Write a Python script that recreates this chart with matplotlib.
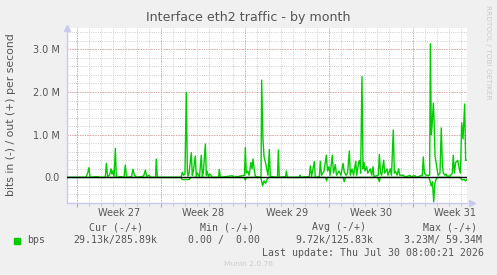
import numpy as np
import matplotlib.pyplot as plt

# time axis in days from left edge of graph, values in Mbit/s
out_days = [0.0, 1.58, 1.72, 1.83, 1.92, 2.58, 2.67, 3.19, 3.28, 3.38, 3.54, 3.67, 3.75, 3.81, 3.92,
            4.03, 4.11, 4.5, 4.75, 4.86, 4.96, 5.38, 5.5, 5.61, 5.75, 5.83, 6.38, 6.53, 6.63, 6.86,
            6.94, 7.38, 7.44, 7.53, 9.5, 9.61, 9.71, 9.83, 9.94, 10.03, 10.08, 10.17, 10.36, 10.44,
            10.53, 10.69, 10.78, 10.86, 11.04, 11.19, 11.28, 11.36, 11.53, 11.61, 11.67, 11.79,
            11.88, 12.0, 12.08, 12.63, 12.69, 12.78, 13.8, 13.86, 14.79, 14.86, 14.94, 15.06,
            15.17, 15.33, 15.42, 15.5, 15.63, 15.71, 16.17, 16.22, 16.33, 16.42, 16.54, 16.64,
            16.75, 16.86, 16.94, 17.54, 17.61, 17.69, 18.22, 18.28, 18.36, 19.38, 19.42, 19.47,
            20.19, 20.28, 20.38, 20.61, 20.69, 21.03, 21.11, 21.21, 21.42, 21.61, 21.71, 21.83,
            21.92, 22.11, 22.21, 22.36, 22.46, 22.67, 22.83, 23.0, 23.11, 23.25, 23.38, 23.53,
            23.61, 23.75, 23.88, 24.06, 24.14, 24.31, 24.39, 24.47, 24.58, 24.67, 24.75, 24.83,
            24.97, 25.06, 25.28, 25.39, 25.5, 25.58, 25.94, 26.03, 26.13, 26.22, 26.39, 26.47,
            26.67, 26.75, 26.94, 27.04, 27.19, 27.28, 27.36, 27.5, 27.64, 27.72, 28.06, 28.14,
            28.58, 28.67, 28.83, 29.0, 29.08, 29.61, 29.69, 29.78, 29.92, 30.22, 30.28, 30.36,
            30.42, 30.53, 30.58, 30.67, 30.81, 30.92, 31.08, 31.19, 31.28, 31.36, 31.5, 31.58,
            31.67, 31.92, 32.11, 32.19, 32.28, 32.39, 32.56, 32.69, 32.79, 32.89, 33.0, 33.14,
            33.22, 33.31]
out_vals = [0.0, 0.0, 0.10, 0.23, 0.0, 0.02, 0.0, 0.0, 0.33, 0.02, 0.05, 0.20, 0.08, 0.15, 0.02,
            0.68, 0.0, 0.02, 0.0, 0.29, 0.0, 0.02, 0.19, 0.05, 0.02, 0.0, 0.03, 0.17, 0.02, 0.05,
            0.0, 0.0, 0.43, 0.0, 0.0, 0.12, 0.05, 0.08, 1.99, 0.15, 0.03, 0.10, 0.58, 0.05,
            0.15, 0.50, 0.02, 0.10, 0.02, 0.52, 0.02, 0.12, 0.78, 0.05, 0.15, 0.02,
            0.08, 0.05, 0.0, 0.0, 0.19, 0.0, 0.04, 0.0, 0.05, 0.70, 0.10, 0.15,
            0.05, 0.35, 0.20, 0.43, 0.12, 0.02, 0.0, 2.28, 0.90, 0.48, 0.35, 0.20,
            0.05, 0.65, 0.02, 0.0, 0.64, 0.0, 0.02, 0.15, 0.0, 0.0, 0.05, 0.0,
            0.02, 0.27, 0.02, 0.37, 0.0, 0.02, 0.38, 0.05, 0.15, 0.52, 0.15, 0.25,
            0.05, 0.52, 0.10, 0.30, 0.05, 0.15, 0.05, 0.33, 0.12, 0.05, 0.10, 0.62,
            0.05, 0.20, 0.05, 0.38, 0.05, 0.36, 0.40, 0.10, 2.36, 0.20, 0.35, 0.15,
            0.25, 0.10, 0.20, 0.05, 0.25, 0.02, 0.05, 0.54, 0.10, 0.05, 0.40, 0.10,
            0.20, 0.05, 0.20, 0.05, 1.11, 0.10, 0.15, 0.05, 0.20, 0.05, 0.05, 0.0,
            0.05, 0.0, 0.03, 0.04, 0.0, 0.05, 0.48, 0.10, 0.05, 0.05, 3.13, 1.0,
            1.2, 1.74, 1.4, 0.5, 0.25, 0.05, 0.10, 1.16, 0.30, 0.10, 0.05, 0.08,
            0.03, 0.03, 0.10, 0.52, 0.10, 0.35, 0.40, 0.20, 0.10, 1.28, 0.90, 1.72,
            0.40, 0.40]

in_days = [0.0, 9.5, 9.6, 10.2, 10.3, 14.75, 14.86, 14.95, 16.15, 16.3, 16.42, 16.55, 16.7, 16.8,
           21.55, 21.63, 21.7, 23.0, 23.1, 23.2, 25.9, 26.03, 26.1, 30.15, 30.25, 30.35, 30.45,
           30.56, 30.65, 30.75, 30.85, 32.8, 32.9, 33.1, 33.2, 33.33]
in_vals = [0.0, 0.0, 0.05, 0.05, 0.0, 0.0, 0.06, 0.0, 0.0, 0.20, 0.08, 0.14, 0.03, 0.0,
           0.0, 0.08, 0.0, 0.0, 0.10, 0.0, 0.0, 0.10, 0.0, 0.0, 0.08, 0.20, 0.10,
           0.57, 0.15, 0.05, 0.0, 0.0, 0.06, 0.05, 0.08, 0.05]

week_labels = ["Week 27", "Week 28", "Week 29", "Week 30", "Week 31"]
ytick_vals = [0.0, 1.0, 2.0, 3.0]
ytick_labels = ["0.0", "1.0 M", "2.0 M", "3.0 M"]

legend_cols = ["Cur (-/+)", "Min (-/+)", "Avg (-/+)", "Max (-/+)"]
legend_vals = ["29.13k/285.89k", "0.00 /  0.00", "9.72k/125.83k", "3.23M/ 59.34M"]

W, H = 497, 275
GREEN = "#00CC00"
TXT = "#555555"
AXC = "#C8C8F0"
MINOR = "#c0c0c0"
MAJOR = "#e09898"


def fx(x):
    return x / W


def fy(y):
    return 1 - y / H


fig = plt.figure(figsize=(W / 100, H / 100), dpi=100, facecolor="#F0F0F0")
ax = fig.add_axes([fx(67), fy(203), 400 / W, 175 / H])
ax.set_facecolor("white")

x0, x1 = 0, 400 / 12
ax.set_xlim(x0, x1)
ax.set_ylim(-0.6, 3.5)

# grid
for d in np.arange(0.83, x1, 1.0):
    ax.axvline(d, color=MINOR, lw=0.6, ls=(0, (1, 1.6)), zorder=1)
for yv in np.arange(-0.6, 3.5, 0.2):
    ax.axhline(yv, color=MINOR, lw=0.6, ls=(0, (1, 1.6)), zorder=1)
for d in np.arange(0.83, x1, 7.0):
    ax.axvline(d, color=MAJOR, lw=0.7, ls=(0, (1, 1.6)), zorder=2)
for yv in [1.0, 2.0, 3.0]:
    ax.axhline(yv, color=MAJOR, lw=0.7, ls=(0, (1, 1.6)), zorder=2)

ax.plot(out_days, out_vals, color=GREEN, lw=1.0, zorder=3)
ax.plot(in_days, [-v for v in in_vals], color=GREEN, lw=1.0, zorder=3)
ax.axhline(0, color="black", lw=1.0, zorder=4)

for s in ["top", "right"]:
    ax.spines[s].set_visible(False)
for s in ["left", "bottom"]:
    ax.spines[s].set_color(AXC)
    ax.spines[s].set_linewidth(1.0)

ax.set_yticks(ytick_vals)
ax.set_yticklabels(ytick_labels)
ax.set_xticks(np.arange(0.83, x1, 7.0))
ax.set_xticklabels([])
ax.set_xticks(np.arange(0.83, x1, 1.0), minor=True)
ax.tick_params(axis="x", which="major", length=3, color=MAJOR, direction="out")
ax.tick_params(axis="x", which="minor", length=2, color=MINOR, direction="out")
ax.tick_params(axis="y", length=0, labelsize=7, labelcolor=TXT, pad=5)

# axis arrows
ax.plot([0], [1], marker="^", ms=4, color=AXC, transform=ax.transAxes, clip_on=False)
ax.plot([1.012], [0], marker=">", ms=4, color=AXC, transform=ax.transAxes, clip_on=False)

for i, lab in enumerate(week_labels):
    ax.text(4.33 + 7 * i, -0.03, lab, transform=ax.get_xaxis_transform(),
            ha="center", va="top", fontsize=7, color=TXT)

fig.text(fx(248), fy(18), "Interface eth2 traffic - by month", ha="center", va="center",
         fontsize=9.1, color=TXT)
fig.text(fx(11), fy(115), "bits in (-) / out (+) per second", rotation=90, ha="center",
         va="center", fontsize=7.8, color=TXT)
fig.text(fx(488), fy(5), "RRDTOOL / TOBI OETIKER", rotation=-90, ha="center", va="top",
         fontsize=5.3, color="#cccccc")

# legend
fig.patches.append(plt.Rectangle((fx(14), fy(243.5)), 6 / W, 6 / H, transform=fig.transFigure,
                                 color=GREEN))
mono = dict(family="DejaVu Sans Mono", fontsize=7.1, color=TXT, va="center")
fig.text(fx(26.7), fy(240), "bps", ha="left", **mono)
col_right = [143, 254, 366, 477]
val_right = [157, 260, 373, 482]
for c, v, cr, vr in zip(legend_cols, legend_vals, col_right, val_right):
    fig.text(fx(cr), fy(227.5), c, ha="right", **mono)
    fig.text(fx(vr), fy(240), v, ha="right", **mono)
fig.text(fx(484), fy(252.5), "Last update: Thu Jul 30 08:00:21 2026", ha="right", **mono)
fig.text(fx(248), fy(264), "Munin 2.0.76", ha="center", va="center", fontsize=5.4,
         color="#cccccc")

fig.savefig("out.png", dpi=100, facecolor=fig.get_facecolor())
